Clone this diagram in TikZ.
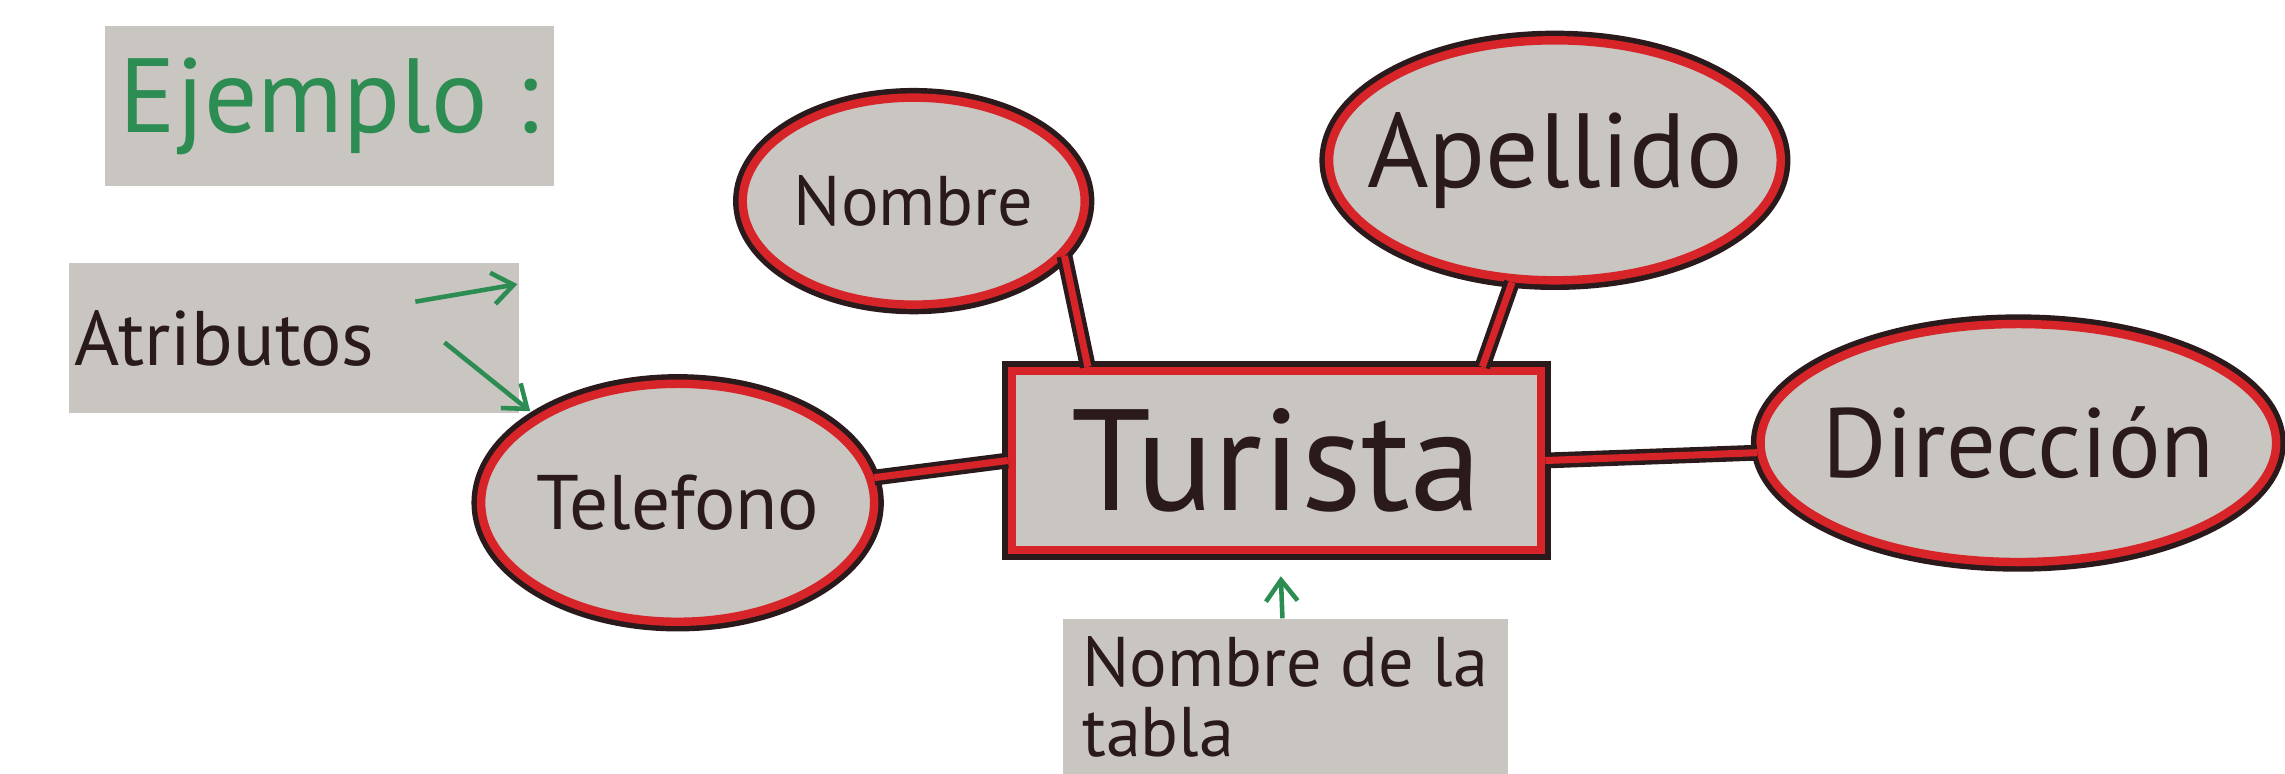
\documentclass[tikz,border=0pt]{standalone}
\usepackage{fontspec}
\setmainfont{PT Sans}
\usetikzlibrary{arrows.meta,shapes.geometric,positioning}

\definecolor{papel}{RGB}{201,197,193}
\definecolor{rojo}{RGB}{214,36,40}
\definecolor{tinta}{RGB}{42,26,28}
\definecolor{verde}{RGB}{44,140,82}

\begin{document}
\begin{tikzpicture}[x=0.014573cm, y=-0.014573cm,
    nota/.style={fill=papel, text=tinta, inner sep=0pt},
    flecha/.style={draw=verde, line width=1.3pt, -{Straight Barb[length=6pt,width=9pt]}}]
      \useasboundingbox (0,0) rectangle (1568,531);
      % notas
      \node[nota, text=verde, font=\fontsize{30}{30}\selectfont,
        minimum width=4.49cm, minimum height=1.6cm] (ej) at (226,73) {Ejemplo :};
      \node[nota, font=\fontsize{22}{22}\selectfont, text width=4.4cm, align=left,
        inner xsep=0.05cm, minimum height=1.5cm] (attr) at (202,232) {Atributos};
      \node[nota, font=\fontsize{20}{20}\selectfont, align=left,
        minimum width=4.45cm, minimum height=1.55cm] (tabla) at (882,478) {Nombre de la\\tabla};
      % entidad y atributos
      \begin{scope}[every node/.style={ellipse, fill=papel, text=tinta, inner sep=0pt,
          draw=rojo, line width=2.4pt, preaction={draw=tinta, line width=5.5pt}}]
        \node[minimum width=3.42cm, minimum height=2.07cm, inner xsep=-0.05cm, font=\fontsize{20}{20}\selectfont] (nom) at (627,138) {Nombre};
        \node[minimum width=4.47cm, minimum height=2.40cm, inner xsep=-0.28cm, font=\fontsize{30}{30}\selectfont] (ape) at (1067,110) {Apellido};
        \node[minimum width=3.93cm, minimum height=2.38cm, inner xsep=-0.06cm, font=\fontsize{22}{22}\selectfont] (tel) at (465,345) {Telefono};
        \node[minimum width=5.10cm, minimum height=2.38cm, inner xsep=-0.14cm, font=\fontsize{28}{28}\selectfont] (dir) at (1385,304) {Dirección};
        \node[rectangle, minimum width=5.29cm, minimum height=1.79cm, font=\fontsize{41}{41}\selectfont] (tur) at (876,316) {Turista};
      \end{scope}
      \begin{scope}[every edge/.style={draw=rojo, line width=2pt,
          preaction={draw=tinta, line width=4.5pt}}]
        \path (nom.-20) edge ([xshift=0.8cm]tur.north west);
        \path (ape) edge ([xshift=-0.63cm]tur.north east);
        \path (tel) edge (tur.west);
        \path (tur.east) edge (dir);
      \end{scope}
      % flechas verdes
      \coordinate (p1) at (285,207);
      \coordinate (p2) at (355,195);
      \coordinate (p3) at (305,235);
      \draw[flecha] (p1) -- (p2);
      \draw[flecha, shorten >=2pt] (p3) -- (tel.north west);
      \draw[flecha, shorten >=0.22cm] (tabla) -- (tur);
\end{tikzpicture}
\end{document}
